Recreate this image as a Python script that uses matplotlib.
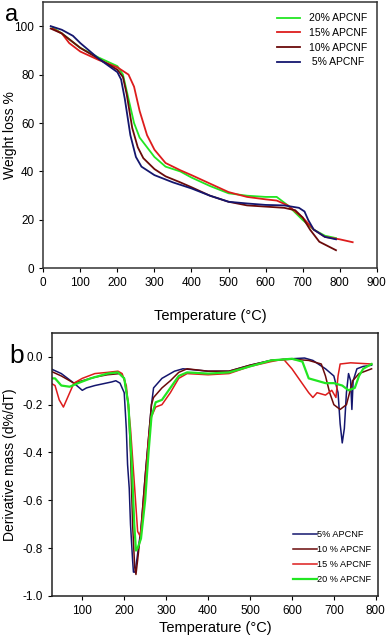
import numpy as np
import matplotlib
matplotlib.use('Agg')
import matplotlib.pyplot as plt

plt.rcParams['font.family'] = ['Liberation Sans', 'DejaVu Sans']

# ---- panel a: TGA weight loss curves ----
t_green_a = [25, 50, 100, 150, 200, 215, 230, 245, 260, 280, 300, 330, 370, 400, 450, 500, 550, 600, 630, 660, 700, 730, 760, 790]
w_green_a = [99.5, 97, 91, 87, 83.5, 80, 70, 60, 54, 50, 46, 42, 40, 37.5, 34, 31, 30, 29.5, 29.5, 26, 20, 16, 13.5, 12.5]

t_red_a = [25, 50, 70, 100, 150, 200, 230, 245, 260, 280, 300, 330, 370, 400, 450, 500, 550, 600, 630, 660, 700, 730, 760, 800, 835]
w_red_a = [99, 97, 93, 89.5, 86, 83, 80, 75, 65, 55, 49, 43.5, 40.5, 38.5, 35, 31.5, 29.5, 28.5, 28, 26, 21, 16, 13, 12, 10.8]

t_dred_a = [20, 50, 100, 150, 200, 215, 225, 240, 255, 270, 300, 330, 370, 400, 450, 500, 550, 600, 650, 680, 700, 720, 745, 790]
w_dred_a = [99, 97, 91, 86.5, 82, 79, 72, 58, 50, 45.5, 41, 38, 35.5, 33.5, 30, 27.5, 26, 25.5, 25, 24, 21, 16, 11, 7.5]

t_navy_a = [20, 50, 80, 100, 150, 200, 210, 220, 235, 250, 265, 300, 350, 400, 450, 500, 550, 600, 650, 690, 705, 715, 730, 760, 790]
w_navy_a = [100, 98.5, 96, 93, 86.5, 81, 78, 70, 55, 46, 42, 38.5, 35.5, 33, 30, 27.5, 26.8, 26.2, 26, 25, 23.5, 20, 16, 13, 12]

# ---- panel b: DTG curves ----
t_navy_b = [25, 50, 80, 100, 110, 130, 170, 180, 190, 200, 205, 208, 212, 215, 220, 222, 226, 230, 240, 250, 260, 265, 270, 290, 320, 340, 400, 450, 500, 550, 600, 630, 650, 680, 700, 710, 715, 720, 725, 730, 735, 740, 743, 746, 755, 770, 790]
d_navy_b = [-0.05, -0.07, -0.11, -0.14, -0.13, -0.12, -0.105, -0.10, -0.11, -0.15, -0.3, -0.45, -0.55, -0.7, -0.85, -0.9, -0.9, -0.85, -0.72, -0.5, -0.3, -0.2, -0.13, -0.09, -0.06, -0.05, -0.06, -0.06, -0.035, -0.015, -0.008, -0.005, -0.015, -0.05, -0.08, -0.15, -0.28, -0.36, -0.3, -0.15, -0.07, -0.1, -0.22, -0.1, -0.05, -0.04, -0.035]

t_dred_b = [25, 50, 80, 100, 130, 160, 190, 200, 210, 215, 220, 225, 228, 232, 240, 250, 260, 265, 270, 290, 310, 330, 350, 400, 450, 500, 550, 600, 640, 670, 680, 690, 700, 715, 730, 745, 760, 790]
d_dred_b = [-0.06, -0.08, -0.11, -0.1, -0.085, -0.075, -0.07, -0.09, -0.2, -0.4, -0.7, -0.88, -0.91, -0.85, -0.72, -0.5, -0.3, -0.2, -0.17, -0.13, -0.1, -0.065, -0.05, -0.06, -0.06, -0.035, -0.015, -0.01, -0.015, -0.03, -0.08, -0.15, -0.2, -0.22, -0.2, -0.1, -0.07, -0.05]

t_red_b = [25, 35, 45, 55, 65, 80, 100, 130, 160, 185, 195, 205, 215, 225, 232, 238, 242, 250, 258, 265, 275, 290, 310, 330, 350, 400, 450, 500, 550, 580, 600, 620, 640, 650, 660, 680, 695, 705, 710, 715, 740, 790]
d_red_b = [-0.11, -0.12, -0.18, -0.21, -0.17, -0.11, -0.09, -0.07, -0.065, -0.06, -0.07, -0.12, -0.3, -0.55, -0.73, -0.75, -0.7, -0.55, -0.35, -0.25, -0.21, -0.2, -0.15, -0.09, -0.07, -0.075, -0.07, -0.04, -0.02, -0.01, -0.05, -0.1, -0.15, -0.17, -0.15, -0.16, -0.14, -0.17, -0.08, -0.03, -0.025, -0.03]

t_green_b = [25, 35, 50, 70, 90, 120, 160, 185, 200, 210, 218, 224, 228, 232, 240, 250, 258, 265, 275, 290, 310, 330, 350, 400, 450, 500, 550, 600, 625, 640, 660, 680, 700, 720, 735, 750, 760, 770, 790]
d_green_b = [-0.09, -0.09, -0.12, -0.125, -0.11, -0.09, -0.07, -0.065, -0.09, -0.2, -0.45, -0.7, -0.81, -0.8, -0.76, -0.6, -0.4, -0.25, -0.19, -0.18, -0.13, -0.08, -0.065, -0.07, -0.065, -0.04, -0.015, -0.008, -0.02, -0.09, -0.1, -0.11, -0.11, -0.12, -0.14, -0.13, -0.08, -0.05, -0.03]

c_green = '#22e622'
c_red = '#dd1c1c'
c_dred = '#6a0a0a'
c_navy = '#14166e'

fig = plt.figure(figsize=(3.9, 6.39), dpi=100)

# panel a
ax1 = fig.add_axes([0.111, 0.580, 0.855, 0.417])
ax1.plot(t_green_a, w_green_a, color=c_green, lw=1.3, label='20% APCNF')
ax1.plot(t_red_a, w_red_a, color=c_red, lw=1.3, label='15% APCNF')
ax1.plot(t_dred_a, w_dred_a, color=c_dred, lw=1.3, label='10% APCNF')
ax1.plot(t_navy_a, w_navy_a, color=c_navy, lw=1.3, label=' 5% APCNF')
ax1.set_xlim(0, 900)
ax1.set_ylim(0, 110)
ax1.set_xticks(np.arange(0, 901, 100))
ax1.set_yticks(np.arange(0, 101, 20))
ax1.tick_params(labelsize=8.5, length=3, direction='out')
ax1.set_xlabel('Temperature (°C)', fontsize=10.5, labelpad=14)
ax1.set_ylabel('Weight loss %', fontsize=10)
ax1.yaxis.set_label_coords(-0.08, 0.5)
for s in ax1.spines.values():
    s.set_color('#333333')
    s.set_linewidth(1.1)
ax1.legend(loc='upper left', bbox_to_anchor=(0.68, 0.985), frameon=False, fontsize=7.5,
           handlelength=2.2, handletextpad=0.8, labelspacing=0.45, borderpad=0.2)
fig.text(0.012, 0.977, 'a', fontsize=17, va='center', ha='left')

# panel b
ax2 = fig.add_axes([0.1325, 0.0673, 0.8375, 0.4117])
ax2.plot(t_navy_b, d_navy_b, color=c_navy, lw=1.1, label='5% APCNF')
ax2.plot(t_dred_b, d_dred_b, color=c_dred, lw=1.1, label='10 % APCNF')
ax2.plot(t_red_b, d_red_b, color=c_red, lw=1.1, label='15 % APCNF')
ax2.plot(t_green_b, d_green_b, color=c_green, lw=1.6, label='20 % APCNF')
ax2.set_xlim(27, 806)
ax2.set_ylim(-1.0, 0.1)
ax2.set_xticks(np.arange(100, 801, 100))
ax2.set_yticks(np.arange(-1.0, 0.01, 0.2))
ax2.yaxis.set_major_formatter(plt.FuncFormatter(lambda v, _: f'{v:.1f}'.replace('-0.0', '0.0')))
ax2.tick_params(labelsize=8.5, length=3, direction='out')
ax2.set_xlabel('Temperature (°C)', fontsize=10.5, labelpad=3)
ax2.set_ylabel('Derivative mass (d%/dT)', fontsize=10)
ax2.yaxis.set_label_coords(-0.105, 0.5)
for s in ax2.spines.values():
    s.set_color('#222222')
    s.set_linewidth(1.1)
ax2.legend(loc='upper left', bbox_to_anchor=(0.72, 0.275), frameon=False, fontsize=6.6,
           handlelength=2.6, handletextpad=0.0, labelspacing=0.65, borderpad=0.2)
fig.text(0.025, 0.443, 'b', fontsize=19, va='center', ha='left')

plt.savefig('out.png', dpi=100)
plt.close()
